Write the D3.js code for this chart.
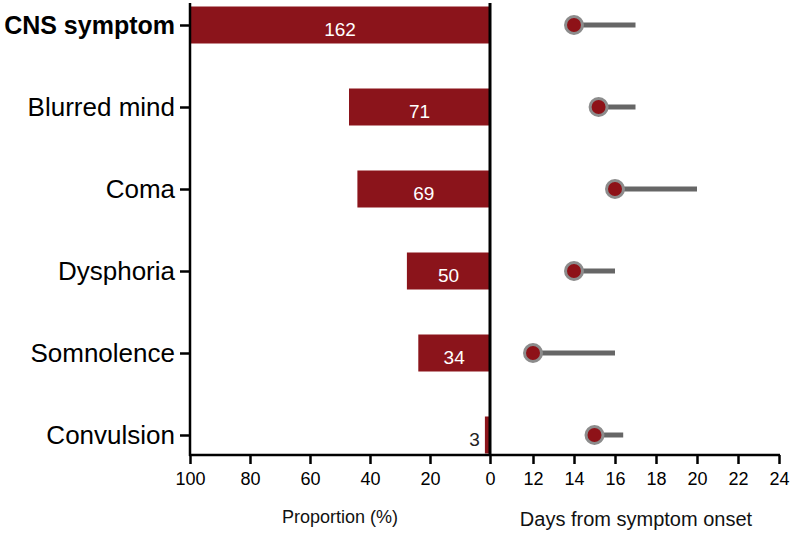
<!DOCTYPE html>
<html><head><meta charset="utf-8">
<script src="https://cdn.jsdelivr.net/npm/d3@7"></script>
<style>body{margin:0;background:#fff}svg{display:block;font-family:"Liberation Sans",Arial,sans-serif}</style>
</head><body><svg id="c" width="792" height="533"></svg>
<script>
const categories = ["CNS symptom","Blurred mind","Coma","Dysphoria","Somnolence","Convulsion"];
const counts = [162, 71, 69, 50, 34, 3];
const proportions = [100, 47, 44.2, 27.7, 23.9, 1.7];
const medianDays = [14, 15.2, 16, 14, 12, 15];
const upperDays = [17, 17, 20, 16, 16, 16.4];
const propTicks = [100, 80, 60, 40, 20, 0];
const dayTicks = [12, 14, 16, 18, 20, 22, 24];

const svg = d3.select("#c");
const barColor = "#8b141b";
const plotTop = 3, plotBottom = 455;
const xL = d3.scaleLinear().domain([0, 100]).range([490, 190]);
const xR = d3.scaleLinear().domain([12, 24]).range([533, 779]);
const y = d3.scalePoint().domain(categories).range([25, 435]);
const barH = 37;

// bars
svg.selectAll("rect.bar").data(categories).join("rect")
  .attr("class","bar")
  .attr("x", (d,i) => xL(proportions[i]))
  .attr("width", (d,i) => xL(0) - xL(proportions[i]))
  .attr("y", d => y(d) - barH/2)
  .attr("height", barH)
  .attr("fill", barColor);

// bar labels
const wide = i => (xL(0) - xL(proportions[i])) > 30;
svg.selectAll("text.cnt").data(categories).join("text")
  .attr("class","cnt")
  .attr("x", (d,i) => wide(i) ? (xL(0) + xL(proportions[i]))/2 : xL(proportions[i]) - 5)
  .attr("y", d => y(d) + 4)
  .attr("dy", "0.35em")
  .attr("text-anchor", (d,i) => wide(i) ? "middle" : "end")
  .attr("font-size", 19)
  .attr("fill", (d,i) => wide(i) ? "#fff" : "#222")
  .text((d,i) => counts[i]);

// right panel: lines and dots
svg.selectAll("line.rng").data(categories).join("line")
  .attr("class","rng")
  .attr("x1", (d,i) => xR(medianDays[i]))
  .attr("x2", (d,i) => xR(upperDays[i]))
  .attr("y1", d => y(d)).attr("y2", d => y(d))
  .attr("stroke", "#666").attr("stroke-width", 5);
svg.selectAll("circle.med").data(categories).join("circle")
  .attr("class","med")
  .attr("cx", (d,i) => xR(medianDays[i]))
  .attr("cy", d => y(d))
  .attr("r", 8.5)
  .attr("fill", "#8e1218")
  .attr("stroke", "#8c8c8c").attr("stroke-width", 3);

// axes
const yAxis = svg.append("g").attr("transform", "translate(190,0)")
  .call(d3.axisLeft(y).tickSize(10).tickPadding(5));
yAxis.select(".domain").remove();
yAxis.selectAll("line").attr("stroke", "#000").attr("stroke-width", 2.5);
yAxis.selectAll("text").attr("fill", "#000")
  .attr("font-family", "Liberation Sans, Arial, sans-serif")
  .attr("font-weight", (d,i) => i === 0 ? "bold" : "normal")
  .attr("font-size", (d,i) => i === 0 ? 25 : 26);

const xAxisL = svg.append("g").attr("transform", `translate(0,${plotBottom})`)
  .call(d3.axisBottom(xL).tickValues(propTicks).tickSize(9).tickPadding(8));
const xAxisR = svg.append("g").attr("transform", `translate(0,${plotBottom})`)
  .call(d3.axisBottom(xR).tickValues(dayTicks).tickSize(9).tickPadding(8));
[xAxisL, xAxisR].forEach(g => {
  g.select(".domain").remove();
  g.selectAll("line").attr("stroke", "#000").attr("stroke-width", 2.5);
  g.selectAll("text").attr("font-size", 18).attr("fill", "#000")
    .attr("font-family", "Liberation Sans, Arial, sans-serif");
});

// axis lines
svg.append("line").attr("x1", 190).attr("x2", 190).attr("y1", plotTop).attr("y2", plotBottom + 1)
  .attr("stroke", "#000").attr("stroke-width", 2.5);
svg.append("line").attr("x1", xL(0)).attr("x2", xL(0)).attr("y1", plotTop).attr("y2", plotBottom + 1)
  .attr("stroke", "#000").attr("stroke-width", 3);
svg.append("line").attr("x1", 189).attr("x2", 780).attr("y1", plotBottom).attr("y2", plotBottom)
  .attr("stroke", "#000").attr("stroke-width", 2.5);

// titles
svg.append("text").attr("x", 340).attr("y", 523).attr("text-anchor", "middle")
  .attr("font-size", 18).attr("fill", "#111").text("Proportion (%)");
svg.append("text").attr("x", 636).attr("y", 526).attr("text-anchor", "middle")
  .attr("font-size", 20).attr("fill", "#111").text("Days from symptom onset");
</script></body></html>
